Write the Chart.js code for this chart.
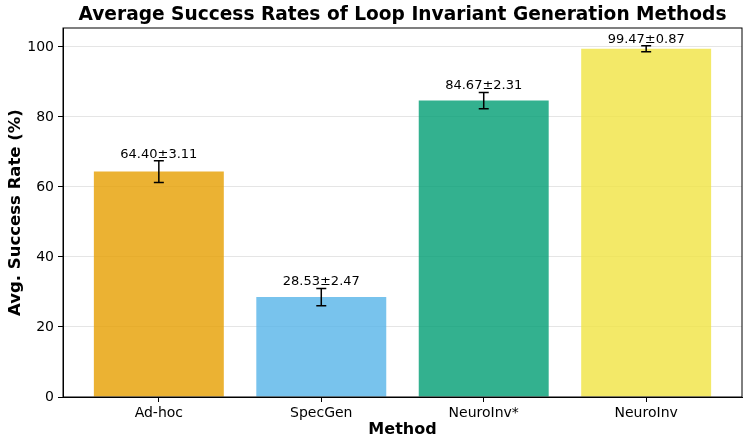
<!DOCTYPE html>
<html>
<head>
<meta charset="utf-8">
<script src="https://cdn.jsdelivr.net/npm/chart.js@4.4.0/dist/chart.umd.min.js"></script>
<style>
  body { margin: 0; background: #fff; }
  #chart { display: block; }
</style>
</head>
<body>
<canvas id="chart" width="748" height="446"></canvas>
<script>
// Chart data
const methods = ['Ad-hoc', 'SpecGen', 'NeuroInv*', 'NeuroInv'];
const successRates = [64.40, 28.53, 84.67, 99.47];
const stdDevs = [3.11, 2.47, 2.31, 0.87];
const barColors = [
    'rgba(230, 159, 0, 0.8)',
    'rgba(86, 180, 233, 0.8)',
    'rgba(0, 158, 115, 0.8)',
    'rgba(240, 228, 66, 0.8)'
];
const yTicks = [0, 20, 40, 60, 80, 100];
const chartTitle = 'Average Success Rates of Loop Invariant Generation Methods';

const FONT = "'DejaVu Sans', sans-serif";

// Error bars, value labels, frame and title
const extrasPlugin = {
    id: 'extras',
    afterDatasetsDraw(chart) {
        const ctx = chart.ctx;
        const xs = chart.scales.x;
        const ys = chart.scales.y;
        ctx.save();
        ctx.strokeStyle = '#000';
        ctx.lineWidth = 1.5;
        ctx.fillStyle = '#000';
        ctx.font = '13px ' + FONT;
        ctx.textAlign = 'center';
        ctx.textBaseline = 'alphabetic';
        successRates.forEach((v, i) => {
            const x = xs.getPixelForValue(i);
            const top = ys.getPixelForValue(v + stdDevs[i]);
            const bot = ys.getPixelForValue(v - stdDevs[i]);
            ctx.beginPath();
            ctx.moveTo(x, top); ctx.lineTo(x, bot);
            ctx.moveTo(x - 5, top); ctx.lineTo(x + 5, top);
            ctx.moveTo(x - 5, bot); ctx.lineTo(x + 5, bot);
            ctx.stroke();
            ctx.fillText(`${v.toFixed(2)}±${stdDevs[i].toFixed(2)}`, x, top - 3);
        });
        ctx.restore();
    },
    afterDraw(chart) {
        const ctx = chart.ctx;
        const a = chart.chartArea;
        ctx.save();
        ctx.strokeStyle = '#000';
        ctx.lineWidth = 1;
        ctx.strokeRect(a.left, a.top, a.right - a.left, a.bottom - a.top);
        ctx.fillStyle = '#000';
        ctx.font = 'bold 18.6px ' + FONT;
        ctx.textAlign = 'center';
        ctx.textBaseline = 'middle';
        ctx.fillText(chartTitle, (a.left + a.right) / 2, 15);
        ctx.restore();
    }
};

const ctx = document.getElementById('chart').getContext('2d');
new Chart(ctx, {
    type: 'bar',
    data: {
        datasets: [{
            data: successRates.map((v, i) => ({ x: i, y: v })),
            backgroundColor: barColors,
            borderWidth: 0,
            barPercentage: 0.8,
            categoryPercentage: 1.0
        }]
    },
    options: {
        responsive: false,
        animation: false,
        layout: { padding: { top: 28, right: 6, left: 0, bottom: 0 } },
        plugins: {
            legend: { display: false },
            tooltip: { enabled: false }
        },
        scales: {
            x: {
                type: 'linear',
                offset: false,
                min: -0.59,
                max: 3.59,
                afterBuildTicks: s => { s.ticks = methods.map((_, i) => ({ value: i })); },
                afterFit: s => { s.height = 49; },
                ticks: {
                    callback: v => methods[v],
                    color: '#000',
                    font: { family: FONT, size: 14 },
                    padding: 3,
                    maxRotation: 0
                },
                grid: { offset: false, drawOnChartArea: false, tickLength: 5, tickColor: '#000' },
                border: { color: '#000', width: 1 },
                title: {
                    display: true,
                    text: 'Method',
                    color: '#000',
                    font: { family: FONT, size: 16, weight: 'bold' },
                    padding: { top: 0, bottom: 7 }
                }
            },
            y: {
                min: 0,
                max: 105.4,
                afterBuildTicks: s => { s.ticks = yTicks.map(v => ({ value: v })); },
                afterFit: s => { s.width = 63; },
                ticks: {
                    color: '#000',
                    font: { family: FONT, size: 14 },
                    padding: 4
                },
                grid: { color: 'rgba(0,0,0,0.1)', tickLength: 5, tickColor: '#000' },
                border: { color: '#000', width: 1 },
                title: {
                    display: true,
                    text: 'Avg. Success Rate (%)',
                    color: '#000',
                    font: { family: FONT, size: 16.5, weight: 'bold' },
                    padding: { top: 6, bottom: 0 }
                }
            }
        }
    },
    plugins: [extrasPlugin]
});
</script>
</body>
</html>
